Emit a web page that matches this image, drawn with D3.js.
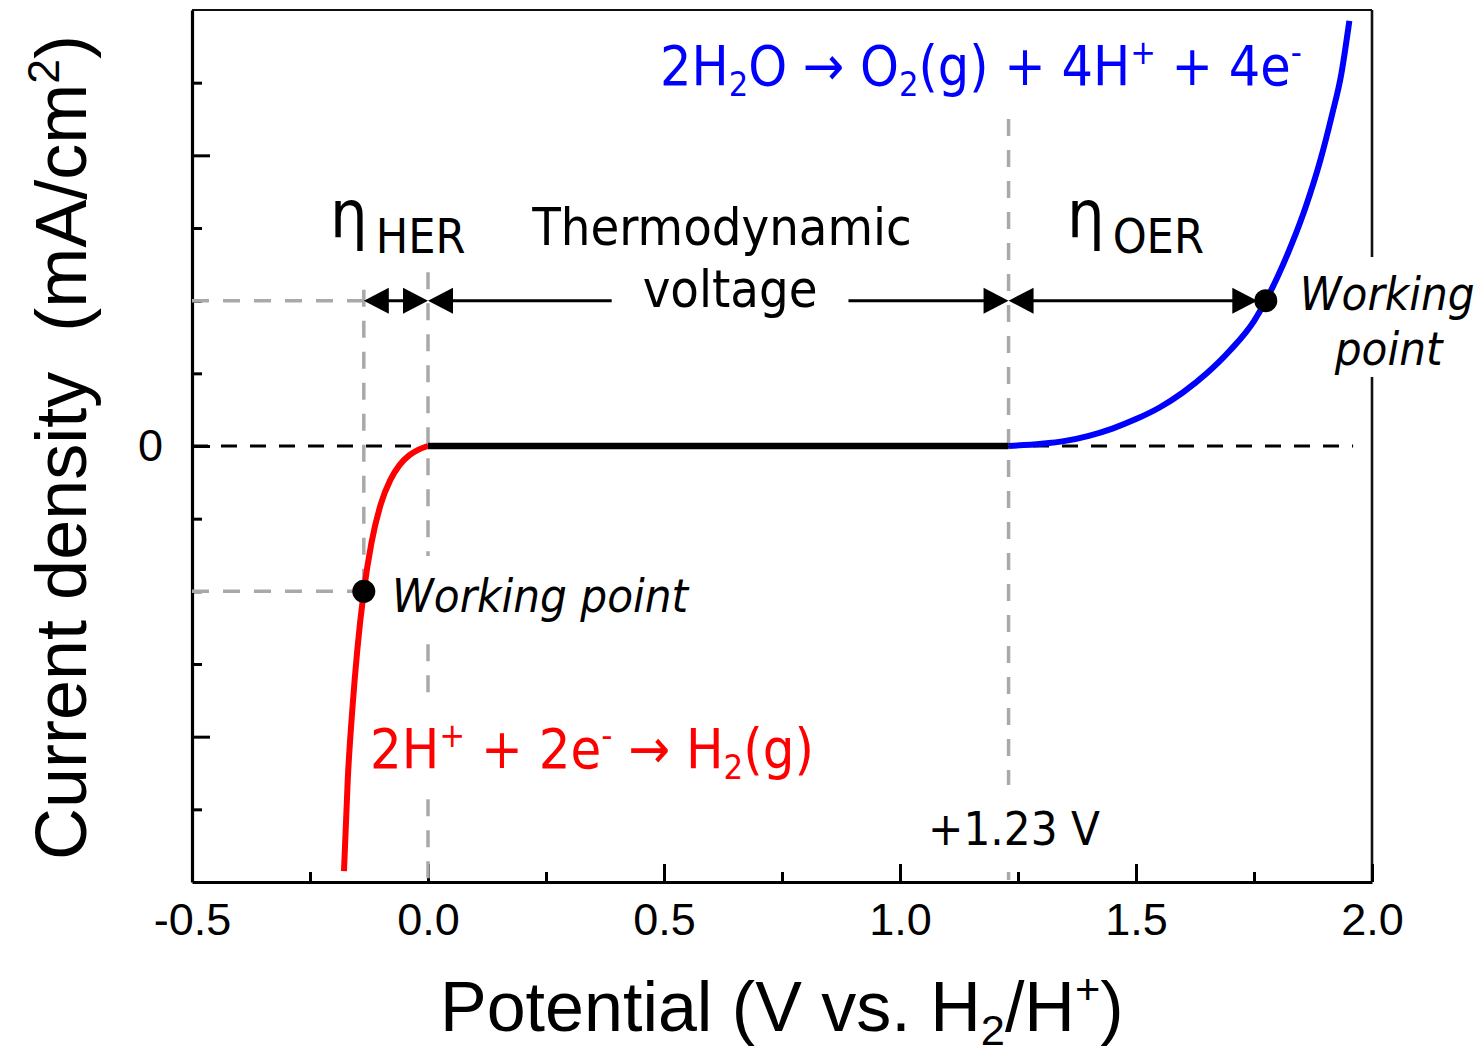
<!DOCTYPE html>
<html>
<head>
<meta charset="utf-8">
<script src="https://cdn.jsdelivr.net/npm/d3@7"></script>
<style>
  html, body { margin: 0; padding: 0; background: #fff; }
  svg { display: block; }
  text { white-space: pre; }
</style>
</head>
<body>
<svg id="chart" width="1481" height="1061"></svg>
<script>
// ---- axis windows and ticks ----
const xDomain = [-0.5, 2.0];          // potential, V vs. H2/H+
const yDomain = [-6, 6];              // current density, mA/cm2
const xMajorTicks = [-0.5, 0.0, 0.5, 1.0, 1.5, 2.0];
const xMinorTicks = [-0.25, 0.25, 0.75, 1.25, 1.75];
const yMajorTicks = [-4, 0, 4];
const yMinorTicks = [-5, -3, -2, -1, 1, 2, 3, 5];

// ---- polarisation branches ----
// hydrogen evolution (cathodic branch)
const herV = [-0.178, -0.17, -0.16, -0.15, -0.136, -0.12, -0.10, -0.08, -0.06, -0.04, -0.02, 0.0];
const herJ = [-5.85, -4.59, -3.60, -2.82, -2.00, -1.34, -0.80, -0.47, -0.26, -0.13, -0.05, 0.0];
// oxygen evolution (anodic branch)
const oerV = [1.23, 1.30, 1.35, 1.40, 1.45, 1.50, 1.55, 1.60, 1.65, 1.70, 1.75, 1.775, 1.80, 1.83, 1.86, 1.89, 1.915, 1.935, 1.952];
const oerJ = [0.0, 0.03, 0.07, 0.14, 0.24, 0.37, 0.53, 0.74, 1.00, 1.32, 1.72, 2.00, 2.33, 2.78, 3.30, 3.92, 4.55, 5.12, 5.85];

// thermodynamic window (no net current) and working points
const eqHER = 0.0;
const eqOER = 1.23;
const workHER = { v: -0.136, j: -2.0 };
const workOER = { v: 1.775, j: 2.0 };

// ---- layout ----
const W = 1481, H = 1061;
const plot = { left: 192, right: 1372, top: 10, bottom: 882 };
const annFont = '"DejaVu Sans Condensed", "DejaVu Sans", sans-serif';
const axFont = '"Liberation Sans", Arial, sans-serif';

const svg = d3.select("#chart");
const x = d3.scaleLinear().domain(xDomain).range([plot.left, plot.right]);
const y = d3.scaleLinear().domain(yDomain).range([plot.bottom, plot.top]);

const gFrame = svg.append("g");
const gGuide = svg.append("g");
const gBg = svg.append("g");
const gCurve = svg.append("g");
const gText = svg.append("g");

// ---- frame (top and right edges) ----
gFrame.append("line").attr("x1", plot.left).attr("x2", plot.right)
  .attr("y1", plot.top).attr("y2", plot.top).attr("stroke", "#111").attr("stroke-width", 2.2);
gFrame.append("line").attr("x1", plot.right).attr("x2", plot.right)
  .attr("y1", plot.top).attr("y2", plot.bottom).attr("stroke", "#111").attr("stroke-width", 2.6);

// ---- axes ----
function styleAxis(g) {
  g.selectAll("line").attr("stroke", "#000").attr("stroke-width", 3);
  g.select(".domain").attr("stroke", "#000").attr("stroke-width", 3.2);
  g.selectAll("text").attr("fill", "#000").attr("font-family", axFont).attr("font-size", 45);
}
const gx = gFrame.append("g").attr("transform", `translate(0,${plot.bottom})`)
  .call(d3.axisBottom(x).tickValues(xMajorTicks).tickSize(-18).tickSizeOuter(0)
    .tickPadding(21).tickFormat(d => d.toFixed(1)));
styleAxis(gx);
const gxm = gFrame.append("g").attr("transform", `translate(0,${plot.bottom})`)
  .call(d3.axisBottom(x).tickValues(xMinorTicks).tickSize(-10).tickFormat(""));
styleAxis(gxm);
gxm.select(".domain").remove();

const gy = gFrame.append("g").attr("transform", `translate(${plot.left},0)`)
  .call(d3.axisLeft(y).tickValues(yMajorTicks).tickSize(-18).tickSizeOuter(0)
    .tickPadding(29).tickFormat(d => d === 0 ? "0" : ""));
styleAxis(gy);
const gym = gFrame.append("g").attr("transform", `translate(${plot.left},0)`)
  .call(d3.axisLeft(y).tickValues(yMinorTicks).tickSize(-10).tickFormat(""));
styleAxis(gym);
gym.select(".domain").remove();

// ---- guide lines ----
// zero-current line
gGuide.append("line")
  .attr("x1", x(xDomain[0])).attr("x2", x(1.96))
  .attr("y1", y(0)).attr("y2", y(0))
  .attr("stroke", "#000").attr("stroke-width", 3).attr("stroke-dasharray", "16,13");

const grey = "#a9a9a9";
function greyLine(x1, y1, x2, y2) {
  gGuide.append("line").attr("x1", x1).attr("y1", y1).attr("x2", x2).attr("y2", y2)
    .attr("stroke", grey).attr("stroke-width", 3.5).attr("stroke-dasharray", "17,14");
}
// equilibrium potentials
greyLine(x(eqHER), y(2.39), x(eqHER), y(yDomain[0]));
greyLine(x(eqOER), y(4.5), x(eqOER), y(yDomain[0]));
// HER working point projections
greyLine(x(workHER.v), y(2.15), x(workHER.v), y(workHER.j));
greyLine(x(xDomain[0]), y(-workHER.j), x(workHER.v), y(-workHER.j));
greyLine(x(xDomain[0]), y(workHER.j), x(workHER.v), y(workHER.j));

// ---- dimension arrows at the working current level ----
const arrowJ = workOER.j;
const headL = 25, headH = 13, dotR = 11.5;
function head(tipX, dir) {
  const yy = y(arrowJ);
  gGuide.append("path")
    .attr("d", `M${tipX},${yy}L${tipX - dir * headL},${yy - headH}L${tipX - dir * headL},${yy + headH}Z`)
    .attr("fill", "#000");
}
function arrow(x1, x2) {
  gGuide.append("line").attr("x1", x1 + 10).attr("x2", x2 - 10)
    .attr("y1", y(arrowJ)).attr("y2", y(arrowJ))
    .attr("stroke", "#000").attr("stroke-width", 3);
  head(x1, -1);
  head(x2, 1);
}
arrow(x(workHER.v), x(eqHER));
arrow(x(eqHER), x(eqOER));
arrow(x(eqOER), x(workOER.v) - dotR + 3);

// ---- curves ----
const line = d3.line().x(d => x(d[0])).y(d => y(d[1])).curve(d3.curveMonotoneX);
gCurve.append("path").datum(d3.zip(herV, herJ)).attr("d", line)
  .attr("fill", "none").attr("stroke", "#ff0000").attr("stroke-width", 6);
gCurve.append("path").datum(d3.zip(oerV, oerJ)).attr("d", line)
  .attr("fill", "none").attr("stroke", "#0000ff").attr("stroke-width", 6);
gCurve.append("path").datum([[eqHER, 0], [eqOER, 0]]).attr("d", d3.line().x(d => x(d[0])).y(d => y(d[1])))
  .attr("stroke", "#000").attr("stroke-width", 6.5);

[workHER, workOER].forEach(p => {
  gCurve.append("circle").attr("cx", x(p.v)).attr("cy", y(p.j)).attr("r", dotR).attr("fill", "#000");
});

// ---- text helpers ----
function rich(sel, parts, fs) {
  let shift = 0;
  parts.forEach(([t, k]) => {
    const target = k === "sub" ? 0.2 * fs : k === "sup" ? -0.38 * fs : 0;
    const ts = sel.append("tspan").text(t).attr("dy", target - shift);
    if (k) ts.attr("font-size", fs * 0.62);
    shift = target;
  });
}
function label(px, py, parts, opt) {
  const fs = opt.size;
  const t = gText.append("text")
    .attr("x", px).attr("y", py)
    .attr("font-family", opt.family || annFont)
    .attr("font-size", fs)
    .attr("font-style", opt.italic ? "italic" : "normal")
    .attr("text-anchor", opt.anchor || "start")
    .attr("fill", opt.color || "#000");
  if (typeof parts === "string") t.text(parts); else rich(t, parts, fs);
  if (opt.bg) {
    const b = t.node().getBBox();
    const [ph, pv] = opt.bg;
    gBg.append("rect").attr("x", b.x - ph).attr("y", b.y - pv)
      .attr("width", b.width + 2 * ph).attr("height", b.height + 2 * pv).attr("fill", "#fff");
  }
  return t;
}

// ---- reaction labels ----
label(x(0.4915), y(4.968),
  [["2H", ""], ["2", "sub"], ["O \u2192 O", ""], ["2", "sub"], ["(g) + 4H", ""], ["+", "sup"], [" + 4e", ""], ["-", "sup"]],
  { size: 55, color: "#0000ff" });
label(x(-0.123), y(-4.431),
  [["2H", ""], ["+", "sup"], [" + 2e", ""], ["-", "sup"], [" \u2192 H", ""], ["2", "sub"], ["(g)", ""]],
  { size: 55.5, color: "#ff0000", bg: [12, 12] });

// ---- overpotential and window labels ----
function eta(px, sub) {
  const t = gText.append("text").attr("x", px).attr("y", y(2.876))
    .attr("font-family", annFont).attr("font-size", 66).attr("fill", "#000");
  t.append("tspan").text("\u03b7");
  t.append("tspan").text(sub).attr("font-size", 48).attr("dy", 16).attr("dx", 8);
}
eta(x(-0.2076), "HER");
eta(x(1.3538), "OER");

label(x(0.623), y(2.766), "Thermodynamic", { size: 52, anchor: "middle" });
label(x(0.64), y(1.913), "voltage", { size: 52, anchor: "middle", bg: [31, 0] });

label(x(1.0593), y(-5.49), "+1.23 V", { size: 47, bg: [10, 16] });

// ---- working-point labels ----
label(x(-0.0763), y(-2.284), "Working point", { size: 47, italic: true, bg: [10, 12] });
const wr = label(x(1.847), y(1.871), "Working", { size: 47, italic: true });
label(x(1.921), y(1.115), "point", { size: 47, italic: true });
{
  const b1 = wr.node().getBBox();
  gBg.append("rect").attr("x", b1.x - 8).attr("y", b1.y - 9)
    .attr("width", W - b1.x + 8).attr("height", y(1.115) + 12 - (b1.y - 9)).attr("fill", "#fff");
}

// ---- axis titles ----
const xt = gText.append("text").attr("x", 440).attr("y", 1031)
  .attr("font-family", axFont).attr("font-size", 70).attr("fill", "#000");
rich(xt, [["Potential (V vs. H", ""], ["2", "sub"], ["/H", ""], ["+", "sup"], [")", ""]], 70);

const yt = gText.append("text").attr("transform", "translate(86,860) rotate(-90)")
  .attr("font-family", axFont).attr("font-size", 72).attr("fill", "#000");
rich(yt, [["Current density  (mA/cm", ""], ["2", "sup"], [")", ""]], 72);
</script>
</body>
</html>
